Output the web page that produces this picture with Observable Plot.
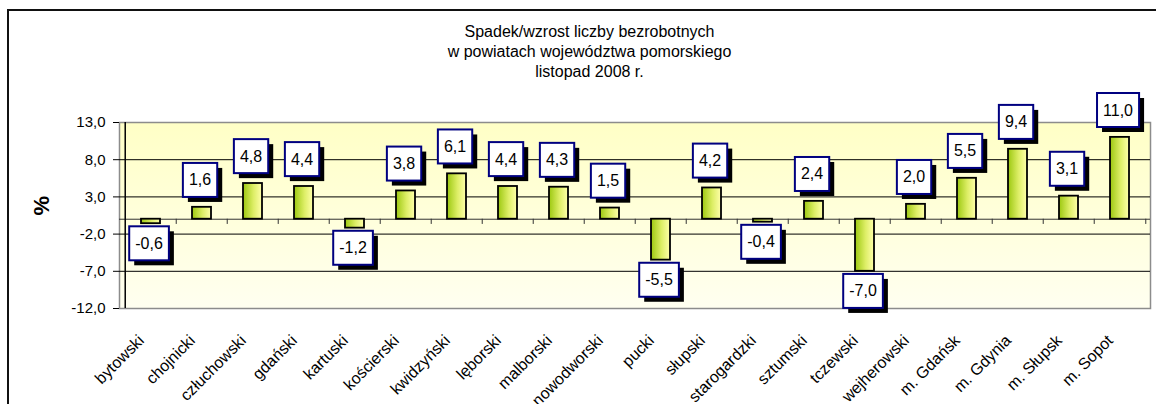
<!DOCTYPE html>
<html><head><meta charset="utf-8">
<script src="https://cdn.jsdelivr.net/npm/d3@7"></script>
<script src="https://cdn.jsdelivr.net/npm/@observablehq/plot@0.6"></script>
<style>
html,body{margin:0;padding:0;background:#fff;overflow:hidden;width:1156px;height:404px}
#frame{position:absolute;left:7px;top:9px;width:1200px;height:500px;border:2px solid #111;box-sizing:border-box}
#chart{position:absolute;left:0;top:0}
</style></head><body>
<div id="frame"></div><div id="chart"></div>
<script>
const categories = ["bytowski","chojnicki","człuchowski","gdański","kartuski","kościerski","kwidzyński","lęborski","malborski","nowodworski","pucki","słupski","starogardzki","sztumski","tczewski","wejherowski","m. Gdańsk","m. Gdynia","m. Słupsk","m. Sopot"];
const values = [-0.6,1.6,4.8,4.4,-1.2,3.8,6.1,4.4,4.3,1.5,-5.5,4.2,-0.4,2.4,-7.0,2.0,5.5,9.4,3.1,11.0];
const yTicks = [-12,-7,-2,3,8,13];
const gridValues = [-7,-2,3,8];
const titleLines = ["Spadek/wzrost liczby bezrobotnych","w powiatach województwa pomorskiego","listopad 2008 r."];
const yLabel = "%";

const data = categories.map((name, i) => ({name, value: values[i]}));
const fmt = v => v.toFixed(1).replace(".", ",");
const W = 1156, H = 404, mL = 119, mR = 6, mT = 122, mB = 96;
const step = (W - mL - mR) / categories.length;
const font = "Arial, 'Liberation Sans', sans-serif";

const defsMark = () => {
  const s = d3.create("svg:defs");
  const bg = s.append("linearGradient").attr("id", "bgGrad").attr("x1", 0).attr("y1", 0).attr("x2", 0).attr("y2", 1);
  bg.append("stop").attr("offset", "0%").attr("stop-color", "#FFFFC6");
  bg.append("stop").attr("offset", "100%").attr("stop-color", "#FFFFF0");
  const bar = s.append("linearGradient").attr("id", "barGrad").attr("x1", 0).attr("y1", 0).attr("x2", 1).attr("y2", 0);
  bar.append("stop").attr("offset", "0%").attr("stop-color", "#9CC810");
  bar.append("stop").attr("offset", "55%").attr("stop-color", "#DDEE66");
  bar.append("stop").attr("offset", "100%").attr("stop-color", "#FFFFAA");
  return s.node();
};

const svg = Plot.plot({
  width: W, height: H,
  marginLeft: mL, marginRight: mR, marginTop: mT, marginBottom: mB,
  style: {fontFamily: font, fontSize: "15px", background: "transparent", color: "#000"},
  x: {domain: categories, padding: 0, axis: null},
  y: {domain: [-12, 13], axis: null},
  marks: [
    defsMark,
    Plot.frame({fill: "url(#bgGrad)", stroke: "#8c8c8c", strokeWidth: 1.5}),
    Plot.ruleY(gridValues, {stroke: "#000", strokeWidth: 1}),
    Plot.ruleY([0], {stroke: "#333", strokeWidth: 1}),
    Plot.ruleX(categories.slice(1), {x: d => d, y1: 0, y2: -0.7, dx: -step / 2, stroke: "#333"}),
    Plot.ruleX([categories[categories.length - 1]], {x: d => d, y1: 0, y2: -0.7, dx: step / 2, stroke: "#333"}),
    Plot.ruleX([categories[0]], {x: d => d, y1: -12, y2: 13, dx: -step / 2, stroke: "#000", strokeWidth: 1.5}),
    Plot.axisY({ticks: yTicks, tickFormat: fmt, tickSize: 6, tickPadding: 8, fontSize: 15, anchor: "left", label: null}),
    Plot.barY(data, {x: "name", y: "value", fill: "url(#barGrad)", stroke: "#000", strokeWidth: 1.8, insetLeft: 16, insetRight: 16}),
    Plot.text(data.filter(d => d.value >= 0), {x: "name", y: "value", text: d => fmt(d.value), dy: -27, dx: -2, fontSize: 16, ariaDescription: "value-label"}),
    Plot.text(data.filter(d => d.value < 0), {x: "name", y: "value", text: d => fmt(d.value), dy: 20, dx: -2, fontSize: 16, ariaDescription: "value-label"}),
    Plot.text(categories, {x: d => d, frameAnchor: "bottom", dy: 33, dx: -6, rotate: -45, textAnchor: "end", fontSize: 16}),
    Plot.text([titleLines.join("\n")], {frameAnchor: "top", dx: 589 - (mL + (W - mL - mR) / 2), dy: 22 - mT, lineAnchor: "top", lineHeight: 1.25, fontSize: 16}),
    Plot.text([yLabel], {frameAnchor: "left", dx: -78, rotate: -90, fontWeight: "bold", fontSize: 22})
  ]
});
document.getElementById("chart").append(svg);

const ns = "http://www.w3.org/2000/svg";
svg.querySelectorAll('g[aria-description="value-label"] text').forEach(t => {
  const b = t.getBBox();
  const padX = 6, h = 34;
  const w = b.width + 2 * padX, x = b.x - padX, y = b.y + b.height / 2 - h / 2;
  const tr = t.getAttribute("transform");
  const mk = (off, fill, stroke) => {
    const r = document.createElementNS(ns, "rect");
    r.setAttribute("x", x + off); r.setAttribute("y", y + off);
    r.setAttribute("width", w); r.setAttribute("height", h);
    r.setAttribute("fill", fill);
    if (stroke) { r.setAttribute("stroke", stroke); r.setAttribute("stroke-width", 2); }
    else r.setAttribute("stroke", "none");
    if (tr) r.setAttribute("transform", tr);
    t.parentNode.insertBefore(r, t);
  };
  mk(5, "#000", null);
  mk(0, "#fff", "#000080");
});
</script>
</body></html>
